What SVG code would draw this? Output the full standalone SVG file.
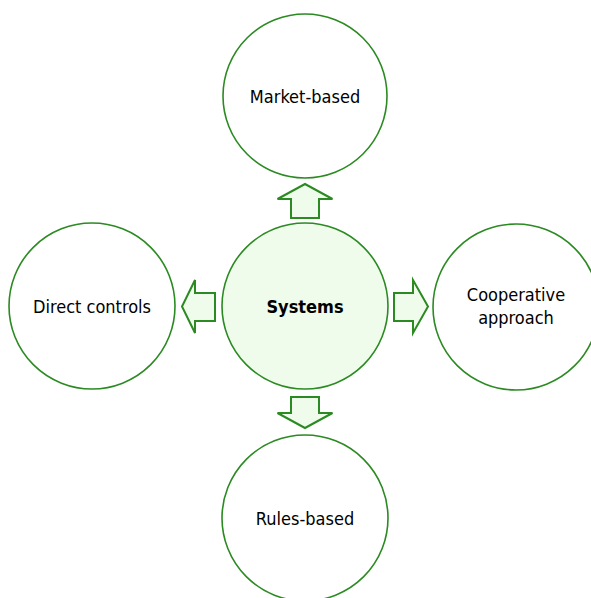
<svg xmlns="http://www.w3.org/2000/svg" width="591" height="598" viewBox="0 0 591 598">
  <style>
    .node { fill: #ffffff; stroke: #2b8a22; stroke-width: 1.6; }
    .hub { fill: #effcec; stroke: #2b8a22; stroke-width: 1.6; }
    .arrow { fill: #effcec; stroke: #2b8a22; stroke-width: 2; stroke-linejoin: miter; }
    .label { font-family: "DejaVu Sans Condensed", "DejaVu Sans", Verdana, sans-serif; font-stretch: condensed; font-size: 18px; fill: #000000; text-anchor: middle; }
    .bold { font-weight: bold; }
  </style>
  <rect width="591" height="598" fill="#ffffff"/>

  <g id="connectors">
    <!-- up -->
    <polygon class="arrow" points="305,184 332.5,199 319,199 319,218 291,218 291,199 277.5,199"/>
    <!-- down -->
    <polygon class="arrow" points="305,428 332.5,413 319,413 319,397 291,397 291,413 277.5,413"/>
    <!-- left -->
    <polygon class="arrow" points="182,306.5 195,280 195,293 215,293 215,321 195,321 195,333"/>
    <!-- right -->
    <polygon class="arrow" points="428,306.5 413,280 413,293 394,293 394,321 413,321 413,333"/>
  </g>

  <g id="systems">
    <circle class="hub" cx="305" cy="306" r="83"/>
    <text class="label bold" x="305" y="312.5">Systems</text>
  </g>

  <g id="market-based">
    <circle class="node" cx="305" cy="96" r="82"/>
    <text class="label" x="305" y="102.5">Market-based</text>
  </g>

  <g id="cooperative-approach">
    <circle class="node" cx="516" cy="307" r="83"/>
    <text class="label" x="516" y="301">Cooperative</text>
    <text class="label" x="516" y="324">approach</text>
  </g>

  <g id="direct-controls">
    <circle class="node" cx="92" cy="306" r="83"/>
    <text class="label" x="92" y="312.5">Direct controls</text>
  </g>

  <g id="rules-based">
    <circle class="node" cx="305" cy="518" r="83"/>
    <text class="label" x="305" y="525">Rules-based</text>
  </g>
</svg>
